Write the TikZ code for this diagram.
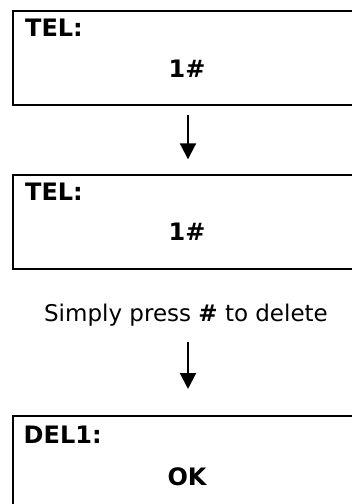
\documentclass[tikz,border=0pt]{standalone}
\usepackage{fontspec}
\setmainfont{DejaVu Sans}
\usetikzlibrary{arrows.meta}
\begin{document}
\begin{tikzpicture}[x=1pt,y=-1pt,
  screen/.style={draw,line width=2pt,rectangle,inner sep=0pt,minimum width=351pt,anchor=north west},
  txt/.style={inner sep=0pt,font=\fontsize{23}{27}\selectfont},
  btxt/.style={inner sep=0pt,font=\fontsize{24}{28}\selectfont\bfseries},
  arr/.style={line width=2pt,-{Triangle[length=16pt,width=16pt]}}]
\useasboundingbox (0,0) rectangle (352,504);
\clip (0,0) rectangle (352,504);
\node[screen,minimum height=93.5pt] (s1) at (11.5,10.2) {};
\node[btxt,anchor=base west] (t1) at (25,36.7) {TEL:};
\node[btxt,anchor=base] (n1) at (187,77.3) {1\#};
\node[screen,minimum height=94pt] (s2) at (11.5,173.5) {};
\node[btxt,anchor=base west] (t2) at (25,200.7) {TEL:};
\node[btxt,anchor=base] (n2) at (187,240.7) {1\#};
\node[txt,anchor=base] (hint) at (186,321.7) {Simply press \textbf{\#} to delete};
\node[screen,minimum height=120pt] (s3) at (11.5,415) {};
\node[btxt,anchor=base west] (t3) at (23.5,443.3) {DEL1:};
\node[btxt,anchor=base] (ok) at (187,485.7) {OK};
\draw[arr,shorten <=9pt,shorten >=14.2pt] (s1.south) -- (s2.north);
\draw[arr,shorten <=15pt,shorten >=26pt] (hint.south -| s3.north) -- (s3.north);
\end{tikzpicture}
\end{document}
